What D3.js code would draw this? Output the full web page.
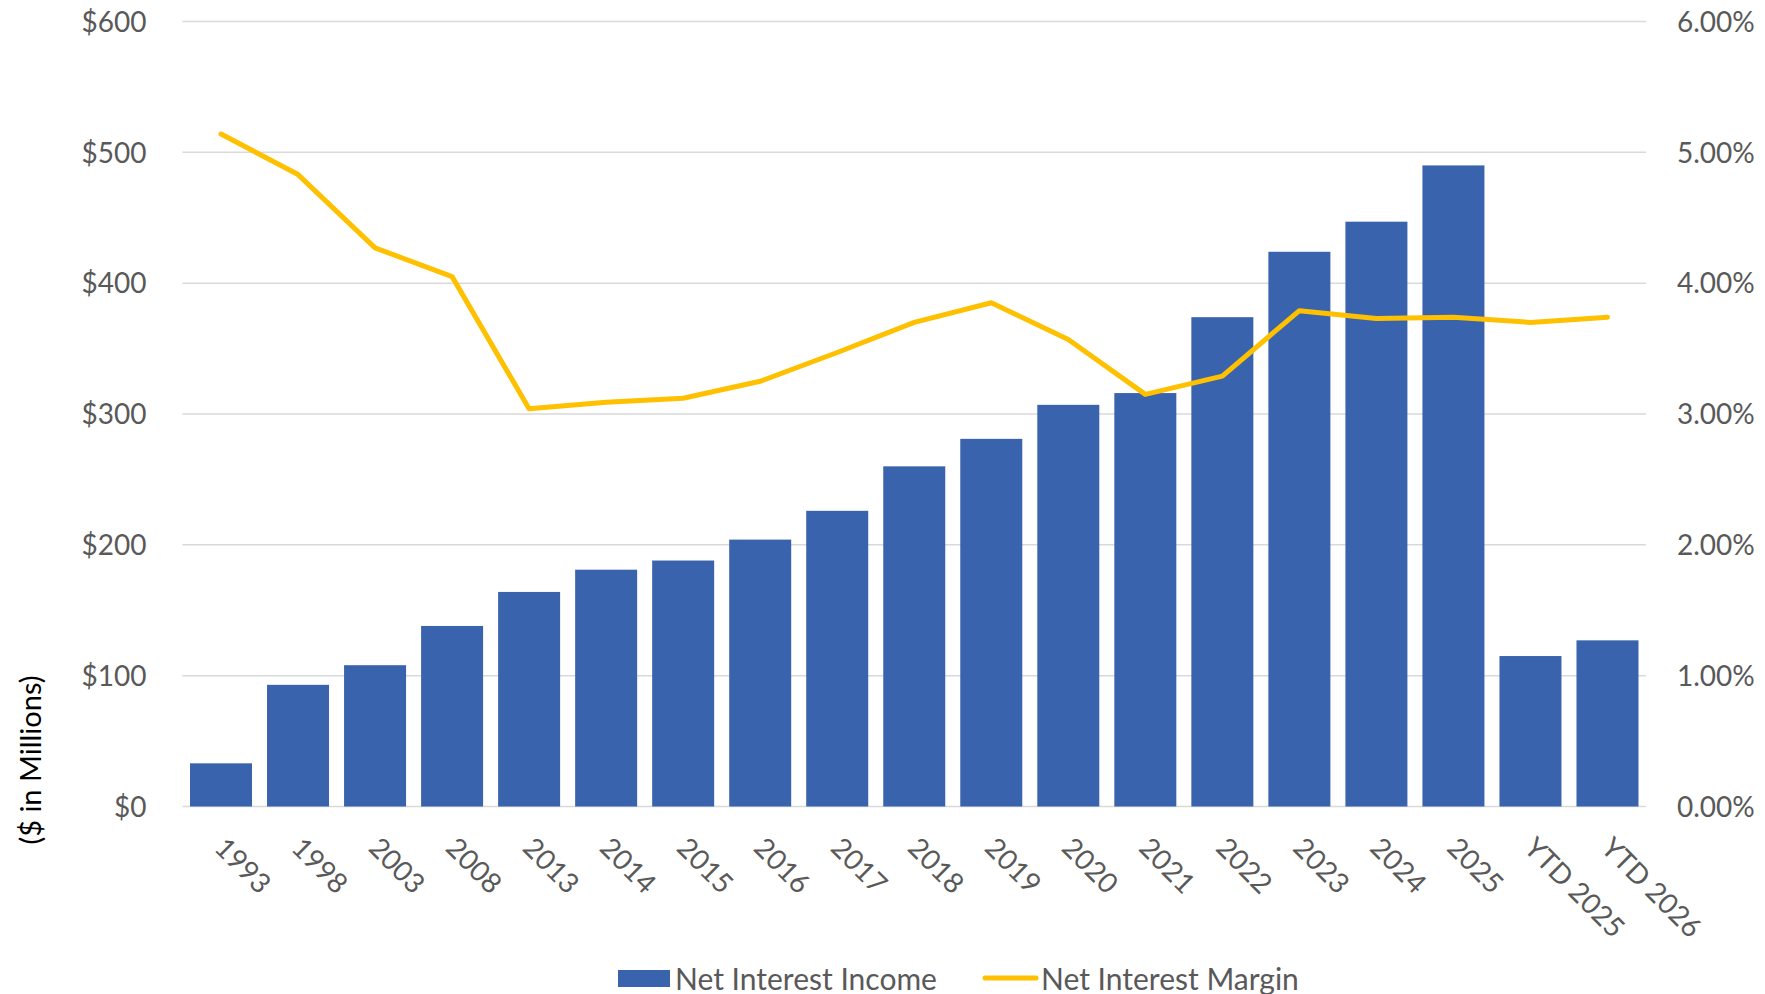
<!DOCTYPE html>
<html>
<head>
<meta charset="utf-8">
<script src="https://cdn.jsdelivr.net/npm/d3@7/dist/d3.min.js"></script>
<style>
  html, body { margin: 0; padding: 0; background: #ffffff; }
  svg { display: block; }
  text { font-family: Lato, "Open Sans", sans-serif; }
</style>
</head>
<body>
<svg id="chart" width="1765" height="994"></svg>
<script>
// Net interest income ($ millions) and net interest margin (%) by period
const categories = ["1993", "1998", "2003", "2008", "2013", "2014", "2015", "2016", "2017",
  "2018", "2019", "2020", "2021", "2022", "2023", "2024", "2025", "YTD 2025", "YTD 2026"];
const netInterestIncome = [33, 93, 108, 138, 164, 181, 188, 204, 226,
  260, 281, 307, 316, 374, 424, 447, 490, 115, 127];
const netInterestMargin = [5.14, 4.83, 4.27, 4.05, 3.04, 3.09, 3.12, 3.25, 3.47,
  3.70, 3.85, 3.57, 3.15, 3.29, 3.79, 3.73, 3.74, 3.70, 3.74];
const leftTicks = [0, 100, 200, 300, 400, 500, 600];
const rightTicks = [0, 1, 2, 3, 4, 5, 6];
const seriesNames = ["Net Interest Income", "Net Interest Margin"];

const svg = d3.select("#chart");
const margin = { left: 182.5, right: 1646, top: 21.5, bottom: 806.5 };

const x = d3.scaleBand()
  .domain(categories)
  .range([margin.left, margin.right])
  .paddingInner(0.195)
  .paddingOuter(0.0975);

const yLeft = d3.scaleLinear().domain([0, 600]).range([margin.bottom, margin.top]);
const yRight = d3.scaleLinear().domain([0, 6]).range([margin.bottom, margin.top]);

const barColor = "#3A63AD";
const lineColor = "#FFC000";
const labelColor = "#595959";

// Horizontal gridlines
svg.append("g")
  .selectAll("line")
  .data(leftTicks)
  .join("line")
  .attr("x1", margin.left)
  .attr("x2", margin.right)
  .attr("y1", d => yLeft(d))
  .attr("y2", d => yLeft(d))
  .attr("stroke", "#D9D9D9")
  .attr("stroke-width", 1.5);

// Left axis ($ millions)
const leftAxis = svg.append("g")
  .attr("transform", `translate(${margin.left - 36},0)`)
  .call(d3.axisLeft(yLeft).tickValues(leftTicks).tickFormat(d => "$" + d).tickSize(0).tickPadding(0));
leftAxis.select(".domain").remove();
leftAxis.selectAll("text")
  .attr("fill", labelColor)
  .style("font-size", "28px")
  .attr("dy", "0.35em");

// Right axis (percent)
const rightAxis = svg.append("g")
  .attr("transform", `translate(${margin.right + 31},0)`)
  .call(d3.axisRight(yRight).tickValues(rightTicks).tickFormat(d => d3.format(".2f")(d) + "%").tickSize(0).tickPadding(0));
rightAxis.select(".domain").remove();
rightAxis.selectAll("text")
  .attr("fill", labelColor)
  .style("font-size", "28px")
  .attr("dy", "0.35em");

// Bars
svg.append("g")
  .selectAll("rect")
  .data(categories)
  .join("rect")
  .attr("x", d => x(d))
  .attr("width", x.bandwidth())
  .attr("y", (d, i) => yLeft(netInterestIncome[i]))
  .attr("height", (d, i) => yLeft(0) - yLeft(netInterestIncome[i]))
  .attr("fill", barColor);

// Margin line
const line = d3.line()
  .x((d, i) => x(categories[i]) + x.bandwidth() / 2)
  .y(d => yRight(d));

svg.append("path")
  .datum(netInterestMargin)
  .attr("d", line)
  .attr("fill", "none")
  .attr("stroke", lineColor)
  .attr("stroke-width", 5)
  .attr("stroke-linejoin", "round")
  .attr("stroke-linecap", "round");

// Category labels, rotated 45°
svg.append("g")
  .selectAll("text")
  .data(categories)
  .join("text")
  .attr("transform", d => `translate(${x(d) + x.bandwidth() / 2 - 1},${margin.bottom + 36}) rotate(45)`)
  .attr("text-anchor", "start")
  .attr("dy", "0.35em")
  .attr("fill", labelColor)
  .style("font-size", "28px")
  .text(d => d);

// Axis title
svg.append("text")
  .attr("transform", "translate(31,760) rotate(-90)")
  .attr("text-anchor", "middle")
  .attr("dy", "0.35em")
  .attr("fill", "#000000")
  .style("font-size", "29px")
  .text("($ in Millions)");

// Legend
const legend = svg.append("g");
legend.append("rect")
  .attr("x", 618).attr("y", 970).attr("width", 52).attr("height", 17)
  .attr("fill", barColor);
legend.append("text")
  .attr("x", 675).attr("y", 979).attr("dy", "0.35em")
  .attr("fill", labelColor).style("font-size", "30px")
  .text(seriesNames[0]);
legend.append("line")
  .attr("x1", 985).attr("x2", 1036).attr("y1", 978).attr("y2", 978)
  .attr("stroke", lineColor).attr("stroke-width", 5).attr("stroke-linecap", "round");
legend.append("text")
  .attr("x", 1041).attr("y", 979).attr("dy", "0.35em")
  .attr("fill", labelColor).style("font-size", "30px")
  .text(seriesNames[1]);
</script>
</body>
</html>
